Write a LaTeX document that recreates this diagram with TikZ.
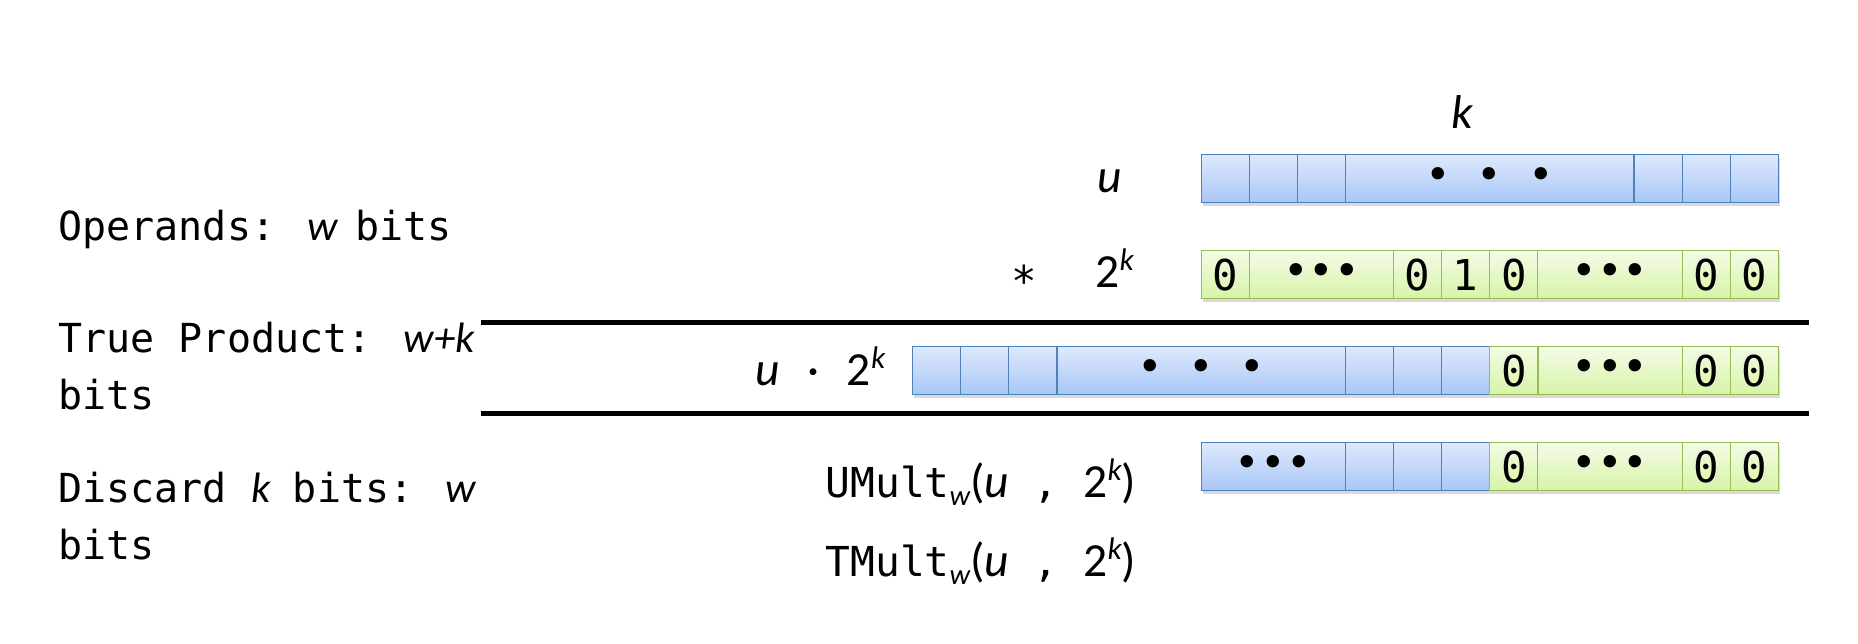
\documentclass[tikz,border=0pt]{standalone}
\usepackage{fontspec}
\setmainfont{DejaVu Sans Mono}
\newfontfamily\calib{Carlito}
\usetikzlibrary{shadows}
\definecolor{bluetop}{RGB}{222,233,252}
\definecolor{bluebot}{RGB}{168,198,247}
\definecolor{blueedge}{RGB}{79,129,189}
\definecolor{greentop}{RGB}{244,251,230}
\definecolor{greenbot}{RGB}{214,244,168}
\definecolor{greenedge}{RGB}{155,187,89}
\newcommand\vi[1]{{\calib\itshape\fontsize{17}{22}\selectfont #1}}
\newcommand\supk{\raisebox{6.5pt}{\fontsize{12.5}{12}\selectfont\calib\itshape k}}
\newcommand\subw{\raisebox{-3.5pt}{\fontsize{11.5}{11}\selectfont\calib\itshape w}}
\tikzset{
  cellbase/.style={draw, line width=0.5pt, anchor=north west, inner sep=0pt,
    minimum height=19.2pt, font=\fontsize{17}{17}\selectfont,
    drop shadow={shadow xshift=0.7pt, shadow yshift=-1.4pt, opacity=0.3}},
  cellB/.style={cellbase, draw=blueedge, top color=bluetop, bottom color=bluebot},
  cellG/.style={cellbase, draw=greenedge, top color=greentop, bottom color=greenbot},
  cellkind/.style={cell#1},
  lbl/.style={inner sep=0pt, anchor=base west, font=\fontsize{16}{20}\selectfont},
  ulbl/.style={inner sep=0pt, anchor=base west, font=\fontsize{16.5}{20}\selectfont},
  ilbl/.style={inner sep=0pt, font=\calib\fontsize{19}{22}\selectfont},
  rulestyle/.style={line width=2pt},
}
\newcommand\bitrow[4]{%
  \foreach \st/\cw/\kind/\txt [count=\i] in {#4}{
    \node[cellkind/.expanded=\kind, minimum width=\cw*19.24pt] (#1\i) at ({#2+\st*48.1},#3) {\txt};
  }}
\begin{document}
\begin{tikzpicture}[x=0.4pt,y=-0.4pt]
\useasboundingbox (0,0) rectangle (1858,643);
% left descriptions
\node[lbl] (ops) at (58,240) {Operands: \vi{w\hspace{7pt}}bits};
\node[lbl] (tp1) at (58,352) {True Product: \vi{w+k}};
\node[lbl] (tp2) at (58,409) {bits};
\node[lbl] (dk1) at (58,502) {Discard \vi{k\hspace{9pt}}bits: \vi{w}};
\node[lbl] (dk2) at (58,559) {bits};
% labels
\node[ilbl, anchor=base] (klbl) at (1462,128) {\itshape k};
\node[ilbl, anchor=base] (ulbl) at (1110,192) {\itshape u};
\node[inner sep=0pt, anchor=base, font=\fontsize{17}{20}\selectfont] (star) at (1024,296) {*};
\node[ilbl, anchor=base west] (twok) at (1095,287) {2\supk};
\node[ilbl, anchor=base west] (prodlbl) at (755,385) {\itshape u\hspace{11pt}\upshape ·\hspace{11pt}2\supk};
\node[ulbl] (umult) at (825,497) {UMult\subw{\calib\fontsize{19}{22}\selectfont(\itshape u} , {\calib\fontsize{19}{22}\selectfont 2\supk)}};
\node[ulbl] (tmult) at (825,576) {TMult\subw{\calib\fontsize{19}{22}\selectfont(\itshape u} , {\calib\fontsize{19}{22}\selectfont 2\supk)}};
% bit rows
\bitrow{a}{1200.5}{154}{0/1/B/{},1/1/B/{},2/1/B/{},3/6/B/• • •,9/1/B/{},10/1/B/{},11/1/B/{}}
\bitrow{b}{1200.5}{250}{0/1/G/0,1/3/G/•••,4/1/G/0,5/1/G/1,6/1/G/0,7/3/G/•••,10/1/G/0,11/1/G/0}
\bitrow{c}{912}{346}{0/1/B/{},1/1/B/{},2/1/B/{},3/6/B/• • •,9/1/B/{},10/1/B/{},11/1/B/{},12/1/G/0,13/3/G/•••,16/1/G/0,17/1/G/0}
\bitrow{d}{1200.5}{442}{0/3/B/•••,3/1/B/{},4/1/B/{},5/1/B/{},6/1/G/0,7/3/G/•••,10/1/G/0,11/1/G/0}
% rules
\coordinate (l1a) at (481,322.5);
\coordinate (l1b) at (1809,322.5);
\coordinate (l2a) at (481,413);
\coordinate (l2b) at (1809,413);
\draw[rulestyle] (l1a) -- (l1b);
\draw[rulestyle] (l2a) -- (l2b);
\end{tikzpicture}
\end{document}
